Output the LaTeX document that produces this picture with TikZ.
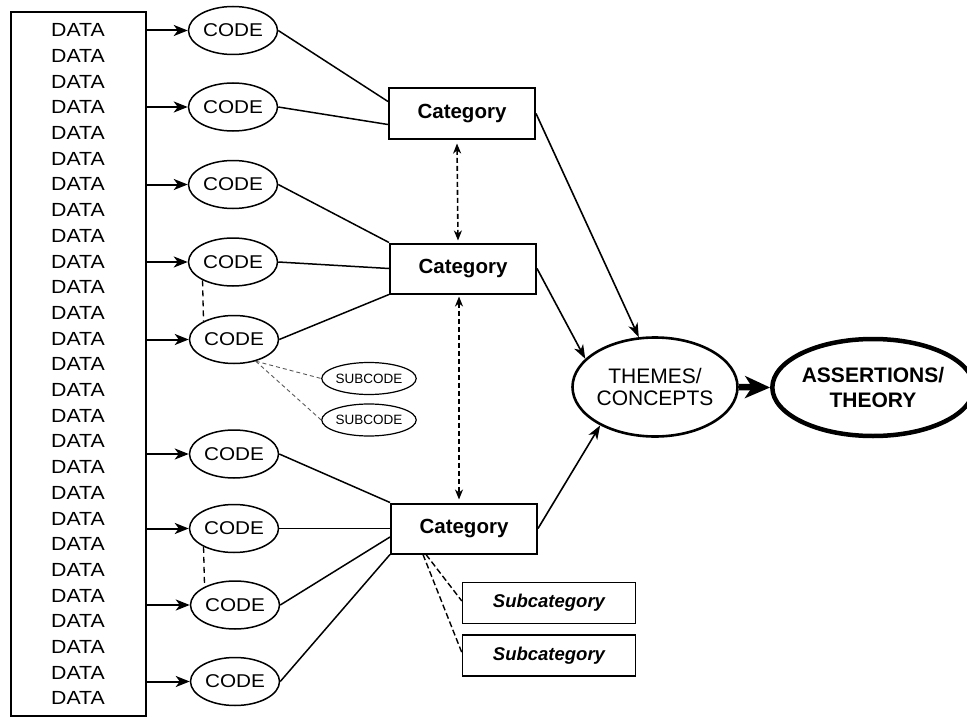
\documentclass[tikz,border=0pt]{standalone}
\usepackage{fontspec}
\setmainfont{Liberation Sans}
\newfontfamily\widesans[FakeStretch=1.12]{Liberation Sans}
\usetikzlibrary{arrows.meta,calc,shapes.geometric}
\begin{document}
\begin{tikzpicture}[x=1pt,y=-1pt,
  databox/.style={draw,line width=2pt,minimum width=135pt,minimum height=704pt,inner sep=0pt},
  datatext/.style={font=\widesans\fontsize{19}{20}\selectfont,inner sep=0pt},
  codenode/.style={draw,ellipse,line width=1.5pt,minimum width=89pt,minimum height=48pt,inner sep=0pt,font=\widesans\fontsize{18.5}{20}\selectfont},
  catnode/.style={draw,rectangle,line width=2pt,minimum width=146pt,minimum height=50pt,inner sep=0pt,font=\bfseries\fontsize{20.5}{22}\selectfont},
  subcat/.style={draw,rectangle,line width=1.4pt,minimum width=173pt,minimum height=41pt,inner sep=0pt,font=\bfseries\itshape\fontsize{18.5}{20}\selectfont},
  subcode/.style={draw,ellipse,line width=1.2pt,minimum width=87pt,minimum height=32pt,inner sep=0pt,font=\fontsize{13.5}{15}\selectfont},
  themenode/.style={draw,ellipse,line width=2.6pt,minimum width=143pt,minimum height=99pt,inner sep=0pt,align=center,font=\fontsize{21}{21.7}\selectfont},
  theorynode/.style={draw,ellipse,line width=4.5pt,minimum width=182pt,minimum height=97pt,inner sep=0pt,align=center,font=\bfseries\fontsize{21}{25}\selectfont},
  dataarrow/.style={line width=2pt,-{Stealth[length=14pt,width=11pt,inset=4pt]}},
  codeline/.style={line width=1.5pt},
  codedash/.style={line width=1.3pt,dash pattern=on 6pt off 4pt},
  catdbl/.style={line width=1.6pt,dash pattern=on 5pt off 3pt,{Stealth[length=10pt,width=8pt,inset=3pt]}-{Stealth[length=10pt,width=8pt,inset=3pt]}},
  themearrow/.style={line width=1.6pt,-{Stealth[length=14pt,width=10pt,inset=4pt]}},
  bigarrow/.style={line width=6.5pt,-{Stealth[length=25pt,width=22pt,inset=7pt]}},
  subdash/.style={line width=0.9pt,gray!70!black,dash pattern=on 4pt off 3pt},
  subcatdash/.style={line width=1.4pt,dash pattern=on 6pt off 3pt}
]
\useasboundingbox (0,0) rectangle (967,717);

% data column
\node[databox] (data) at (78.5,364) {};
\foreach \i in {1,...,27} {
  \node[datatext] (d\i) at (78,{30.2+25.7*(\i-1)}) {DATA};
}

% codes
\node[codenode] (c1) at (233,30.5) {CODE};
\node[codenode] (c2) at (233,107) {CODE};
\node[codenode] (c3) at (233,184.5) {CODE};
\node[codenode] (c4) at (233,262) {CODE};
\node[codenode] (c5) at (234,339.5) {CODE};
\node[codenode] (c6) at (234,454) {CODE};
\node[codenode] (c7) at (234,528.5) {CODE};
\node[codenode] (c8) at (235,605) {CODE};
\node[codenode] (c9) at (235,681.5) {CODE};

\foreach \i in {1,...,9} {
  \draw[dataarrow] (data.east |- c\i) -- (c\i);
}

% dashed links between codes
\draw[codedash] (c4.211) -- (c5.149);
\draw[codedash] (c7.211) -- (c8.149);

% subcodes
\node[subcode] (s1) at (369,378.5) {SUBCODE};
\node[subcode] (s2) at (369,420) {SUBCODE};
\coordinate (c5se) at (c5.-45);
\draw[subdash] (c5se) -- (s1.west);
\draw[subdash] (c5se) -- (s2.west);

% categories
\node[catnode] (cat1) at (462,113.5) {Category};
\node[catnode] (cat2) at (463,268.5) {Category};
\node[catnode] (cat3) at (464,528.5) {Category};

\draw[codeline] (c1.east) -- ($(cat1.west)+(0,-12)$);
\draw[codeline] (c2.east) -- ($(cat1.west)+(0,11)$);
\draw[codeline] (c3.east) -- (cat2.north west);
\draw[codeline] (c4.east) -- (cat2.west);
\draw[codeline] (c5.east) -- (cat2.south west);
\draw[codeline] (c6.east) -- (cat3.north west);
\draw[codeline] (c7.east) -- (cat3.west);
\draw[codeline] (c8.east) -- ($(cat3.west)+(0,8.5)$);
\draw[codeline] (c9.east) -- (cat3.south west);

% category double arrows
\draw[catdbl] ($(cat1.south)+(-5,4)$) -- ($(cat2.north)+(-5,-2)$);
\draw[catdbl] ($(cat2.south)+(-4,2)$) -- ($(cat3.north)+(-5,-3)$);

% subcategories
\node[subcat] (sc1) at (549,603) {Subcategory};
\node[subcat] (sc2) at (549,655.5) {Subcategory};
\coordinate (cs1) at ($(cat3.south west)+(33,0)$);
\coordinate (cs2) at ($(cat3.south west)+(36,0)$);
\draw[subcatdash] (cs2) -- ($(sc1.west)+(0,-2)$);
\draw[subcatdash] (cs1) -- ($(sc2.west)+(0,-3)$);

% themes and theory
\node[themenode] (th) at (655,387) {THEMES/\\CONCEPTS};
\node[theorynode] (as) at (873,387.5) {ASSERTIONS/\\THEORY};

\draw[themearrow] (cat1.east) -- (th.108);
\draw[themearrow] (cat2.east) -- (th.158);
\draw[themearrow] (cat3.east) -- (th.215);
\draw[bigarrow] (th.east) -- (as.west);
\end{tikzpicture}
\end{document}
